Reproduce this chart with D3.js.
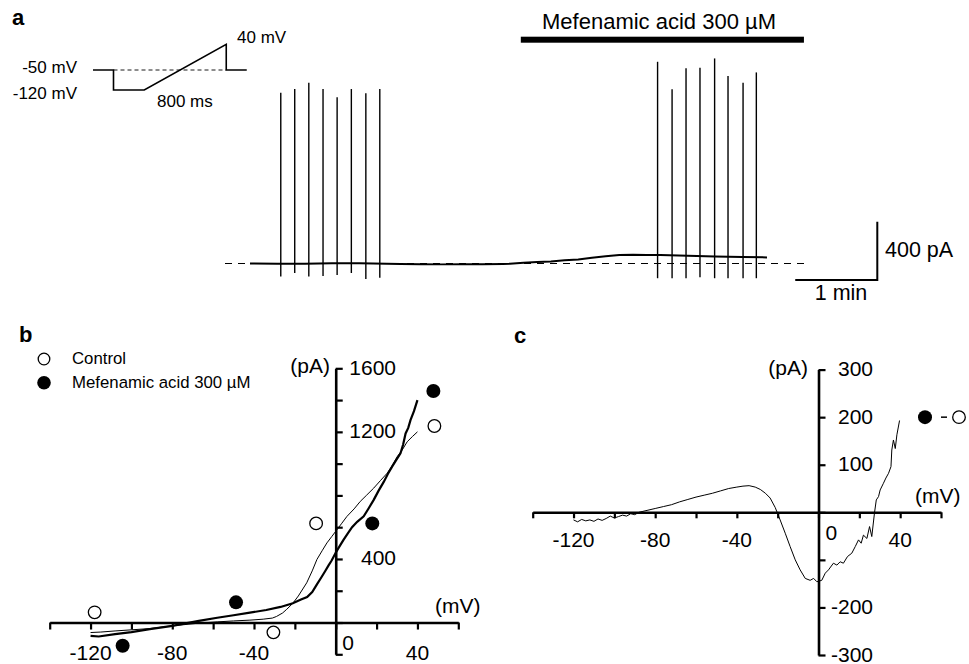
<!DOCTYPE html>
<html><head><meta charset="utf-8">
<script src="https://cdn.jsdelivr.net/npm/d3@7"></script>
<style>body{margin:0;background:#fff}svg{display:block}text{font-family:"Liberation Sans",Arial,sans-serif;fill:#000}</style>
</head><body>
<script>
// ---------- DATA ----------
// panel a: voltage protocol inset
const protocolTime = [0, 200, 200, 500, 1300, 1300, 1500];          // ms
const protocolVoltage = [-50, -50, -120, -120, 40, -50, -50];        // mV
// panel a: time course (s, pA)
const holdTime = [0, 20, 40, 60, 80, 100, 110, 125, 140, 155, 170, 185, 190, 200, 210, 220, 230, 240, 250, 260, 270, 280, 290, 300, 320, 340, 360, 378];
const holdCurrent = [0, -2, -2, 1, 1, -2, -3, -5, -6, -5, -5, -3, -2, 5, 10, 14, 22, 28, 40, 50, 58, 60, 59, 58, 54, 48, 45, 42];
const spikeTimeControl = [22.5, 32.7, 43, 53.4, 63.7, 74.1, 84.7, 94.9];
const spikePeakControl = [1171, 1197, 1240, 1197, 1140, 1197, 1168, 1197];
const spikeTroughControl = [-90, -65, -90, -86, -79, -65, -106, -97];
const spikeTimeDrug = [298, 308.6, 318.8, 329, 339.7, 349.5, 360.5, 370.2];
const spikePeakDrug = [1384, 1195, 1339, 1343, 1407, 1286, 1240, 1311];
const spikeTroughDrug = [-101, -101, -101, -95, -101, -101, -101, -101];
const drugPeriod = [198, 405];      // s
const scaleBarTime = 60;            // s
const scaleBarCurrent = 400;        // pA
// panel b: ramp I-V curves
const controlRampV = [-120, -115, -108, -100, -91, -80, -67, -58, -50, -42, -35.5, -31, -29, -26, -24, -21, -18.3, -14.2, -11.5, -9.2, -6.5, -4.3, -2, 0, 3, 5.5, 9, 12, 15, 18.6, 22, 25.2, 27.5, 30.1, 32.5, 35, 37.5, 40];
const controlRampI = [-63, -60, -53, -46, -38, -21, -4, 4, 10, 15, 21, 28, 38, 60, 83, 121, 167, 250, 325, 397, 455, 501, 540, 574, 625, 668, 715, 762, 800, 846, 895, 940, 985, 1044, 1085, 1138, 1170, 1200];
const drugRampV = [-120, -116, -108, -100, -91, -80, -67, -58, -50, -42, -34, -27, -21, -17, -14, -11.5, -9.2, -7, -5.2, -3.5, -2, 0, 2, 3.8, 6, 8, 10.5, 13.7, 16, 18.6, 21, 23.5, 25.5, 27.6, 29.5, 31.7, 33, 34.2, 35.5, 36.6, 38.3, 40];
const drugRampI = [-84, -88, -73, -60, -42, -21, 10, 30, 46, 62, 79, 98, 121, 145, 160, 192, 240, 285, 323, 360, 390, 439, 482, 520, 562, 600, 634, 668, 716, 772, 830, 885, 935, 981, 1020, 1065, 1120, 1190, 1225, 1274, 1330, 1400];
const controlStepV = [-118, -30.5, -9.6, 48.3];
const controlStepI = [64, -62, 624, 1237];
const drugStepV = [-104.3, -48.8, 17.9, 47.8];
const drugStepI = [-146, 127, 624, 1457];
const bXTicks = [-140, -120, -100, -80, -60, -40, -20, 0, 20, 40, 60];
const bXLabels = [-120, -80, -40, 40];
const bYTicks = [-200, 0, 200, 400, 600, 800, 1000, 1200, 1400, 1600];
const bYLabels = [1600, 1200, 400];
// panel c: difference current (drug - control)
const diffV = [-120, -118, -116, -114, -112, -110, -108, -106, -104, -102, -100, -98, -96, -94, -92, -90, -88, -86, -84, -80, -76, -72, -68, -64, -60, -56, -52, -48, -44, -40, -37, -34, -31, -28.5, -26, -23.7, -21.2, -18.8, -16.3, -13.9, -11.4, -9, -6.5, -4.1, -2.4, -0.8, 1.6, 3.3, 4.9, 7.3, 9, 10.6, 12.2, 14.2, 16.3, 18, 19.6, 20.9, 22, 23.7, 25, 26.1, 27.4, 28.3, 29.4, 30.2, 31.8, 33, 34.3, 35.5, 35.9, 36.7, 37.6, 38.4, 39.7];
const diffI = [-16, -20, -15, -18, -16, -19, -14, -17, -13, -8, -12, -9, -6, -8, -3, -5, 0, 2, 4, 8, 12, 16, 22, 27, 32, 36, 40, 45, 50, 53, 55, 56, 53, 48, 40, 30, 10, -16, -44, -72, -100, -121, -139, -143, -139, -146, -143, -128, -121, -107, -111, -104, -107, -93, -86, -72, -58, -65, -48, -55, -30, -51, -2, 26, 33, 47, 61, 72, 82, 96, 131, 152, 134, 163, 193];
const cXTicks = [-140, -120, -100, -80, -60, -40, -20, 0, 20, 40, 60];
const cXLabels = [-120, -80, -40, 40];
const cYTicks = [-300, -200, -100, 0, 100, 200, 300];
const cYLabels = [300, 200, 100, -200, -300];
const cMarkerI = 200;

// ---------- DRAW ----------
const W = 969, H = 664;
const svg = d3.select("body").append("svg").attr("width", W).attr("height", H);

function txt(x, y, s, size, anchor, weight) {
  return svg.append("text").attr("x", x).attr("y", y).attr("font-size", size)
    .attr("text-anchor", anchor || "start").attr("font-weight", weight || "normal").text(s);
}

// panel labels
txt(12, 25, "a", 22, "start", "bold");
txt(19, 342, "b", 22, "start", "bold");
txt(514, 343, "c", 22, "start", "bold");

// ---- panel a: protocol inset ----
const pt = d3.scaleLinear().domain([0, 1500]).range([93, 246.75]);
const pv = d3.scaleLinear().domain([-120, 40]).range([90, 44.3]);
svg.append("line").attr("x1", pt(200)).attr("x2", pt(1300)).attr("y1", pv(-50)).attr("y2", pv(-50))
  .attr("stroke", "#000").attr("stroke-width", 0.9).attr("stroke-dasharray", "4,3");
svg.append("path").datum(protocolTime.map((t, i) => [t, protocolVoltage[i]]))
  .attr("d", d3.line().x(d => pt(d[0])).y(d => pv(d[1])))
  .attr("fill", "none").attr("stroke", "#000").attr("stroke-width", 1.6);
txt(77, 73, "-50 mV", 17, "end");
txt(77, 99, "-120 mV", 17, "end");
txt(157, 107, "800 ms", 17, "start");
txt(237, 43, "40 mV", 17, "start");

// ---- panel a: time course ----
const ta = d3.scaleLinear().domain([0, 378]).range([250, 767]);
const ia = d3.scaleLinear().domain([0, 400]).range([263.5, 205.2]);
svg.append("line").attr("x1", 225).attr("x2", 805).attr("y1", ia(0)).attr("y2", ia(0))
  .attr("stroke", "#000").attr("stroke-width", 1).attr("stroke-dasharray", "7,6");
svg.append("path").datum(holdTime.map((t, i) => [t, holdCurrent[i]]))
  .attr("d", d3.line().x(d => ta(d[0])).y(d => ia(d[1])))
  .attr("fill", "none").attr("stroke", "#000").attr("stroke-width", 2);
function spikes(times, peaks, troughs) {
  svg.append("g").selectAll("line").data(times).join("line")
    .attr("x1", d => ta(d)).attr("x2", d => ta(d))
    .attr("y1", (d, i) => ia(peaks[i])).attr("y2", (d, i) => ia(troughs[i]))
    .attr("stroke", "#000").attr("stroke-width", 1.4);
}
spikes(spikeTimeControl, spikePeakControl, spikeTroughControl);
spikes(spikeTimeDrug, spikePeakDrug, spikeTroughDrug);
// drug bar
svg.append("rect").attr("x", ta(drugPeriod[0])).attr("width", ta(drugPeriod[1]) - ta(drugPeriod[0]))
  .attr("y", 36.7).attr("height", 6).attr("fill", "#000");
txt(659, 29, "Mefenamic acid 300 µM", 22, "middle");
// scale bar
const sbX = 877.3, sbY = 280;
const sbW = ta(scaleBarTime) - ta(0), sbH = ia(0) - ia(scaleBarCurrent);
svg.append("path").attr("d", `M${sbX - sbW},${sbY}H${sbX}V${sbY - sbH}`)
  .attr("fill", "none").attr("stroke", "#000").attr("stroke-width", 2);
txt(885, 257, "400 pA", 21.5, "start");
txt(841, 300, "1 min", 21.5, "middle");

// ---- panel b ----
const bx = d3.scaleLinear().domain([-140, 60]).range([49.7, 458.3]);
const by = d3.scaleLinear().domain([-200, 1600]).range([654.3, 368.3]);
const gbx = svg.append("g").attr("transform", `translate(0,${by(0)})`)
  .call(d3.axisBottom(bx).tickValues(bXTicks).tickSize(7).tickSizeOuter(0).tickFormat(""));
const gby = svg.append("g").attr("transform", `translate(${bx(0)},0)`)
  .call(d3.axisRight(by).tickValues(bYTicks).tickSize(7).tickSizeOuter(0).tickFormat(""));
[gbx, gby].forEach(g => {
  g.select(".domain").attr("stroke", "#000").attr("stroke-width", 2.6);
  g.selectAll(".tick line").attr("stroke", "#000").attr("stroke-width", 2.2);
});
bXLabels.forEach(v => txt(bx(v), 660, String(v), 21, "middle"));
txt(bx(0) + 6.5, 650, "0", 21, "start");
bYLabels.forEach(v => txt(396, by(v) + 6.5, String(v), 21, "end"));
txt(330, 373, "(pA)", 21, "end");
txt(435, 613, "(mV)", 21, "start");
const lineB = d3.line().x(d => bx(d[0])).y(d => by(d[1]));
svg.append("path").datum(controlRampV.map((v, i) => [v, controlRampI[i]]))
  .attr("d", lineB).attr("fill", "none").attr("stroke", "#000").attr("stroke-width", 1);
svg.append("path").datum(drugRampV.map((v, i) => [v, drugRampI[i]]))
  .attr("d", lineB).attr("fill", "none").attr("stroke", "#000").attr("stroke-width", 2.2);
svg.append("g").selectAll("circle").data(controlStepV).join("circle")
  .attr("cx", d => bx(d)).attr("cy", (d, i) => by(controlStepI[i])).attr("r", 6.3)
  .attr("fill", "#fff").attr("stroke", "#000").attr("stroke-width", 1.3);
svg.append("g").selectAll("circle").data(drugStepV).join("circle")
  .attr("cx", d => bx(d)).attr("cy", (d, i) => by(drugStepI[i])).attr("r", 7)
  .attr("fill", "#000");
// legend
svg.append("circle").attr("cx", 44).attr("cy", 359).attr("r", 5.8).attr("fill", "#fff").attr("stroke", "#000").attr("stroke-width", 1.3);
svg.append("circle").attr("cx", 44).attr("cy", 382.7).attr("r", 6.8).attr("fill", "#000");
txt(72, 364, "Control", 16.8, "start");
txt(72, 387.5, "Mefenamic acid 300 µM", 16.8, "start");

// ---- panel c ----
const cx = d3.scaleLinear().domain([-140, 60]).range([532.7, 941]);
const cy = d3.scaleLinear().domain([-300, 300]).range([655, 369.6]);
const gcx = svg.append("g").attr("transform", `translate(0,${cy(0)})`)
  .call(d3.axisBottom(cx).tickValues(cXTicks).tickSize(6).tickSizeOuter(0).tickFormat(""));
const gcy = svg.append("g").attr("transform", `translate(${cx(0)},0)`)
  .call(d3.axisRight(cy).tickValues(cYTicks).tickSize(7).tickSizeOuter(0).tickFormat(""));
[gcx, gcy].forEach(g => {
  g.select(".domain").attr("stroke", "#000").attr("stroke-width", 2.6);
  g.selectAll(".tick line").attr("stroke", "#000").attr("stroke-width", 2.2);
});
cXLabels.forEach(v => txt(cx(v), 547, String(v), 21, "middle"));
txt(cx(0) + 7, 540, "0", 21, "start");
cYLabels.forEach(v => txt(873, cy(v) + 6.5, String(v), 21, "end"));
txt(808, 375, "(pA)", 21, "end");
txt(915, 503, "(mV)", 21, "start");
svg.append("path").datum(diffV.map((v, i) => [v, diffI[i]]))
  .attr("d", d3.line().x(d => cx(d[0])).y(d => cy(d[1])))
  .attr("fill", "none").attr("stroke", "#000").attr("stroke-width", 1);
// "● − ○" marker
svg.append("circle").attr("cx", 925).attr("cy", cy(cMarkerI)).attr("r", 7).attr("fill", "#000");
svg.append("line").attr("x1", 941).attr("x2", 947).attr("y1", cy(cMarkerI)).attr("y2", cy(cMarkerI)).attr("stroke", "#000").attr("stroke-width", 1.5);
svg.append("circle").attr("cx", 959).attr("cy", cy(cMarkerI)).attr("r", 6.3).attr("fill", "#fff").attr("stroke", "#000").attr("stroke-width", 1.3);
</script>
</body></html>
